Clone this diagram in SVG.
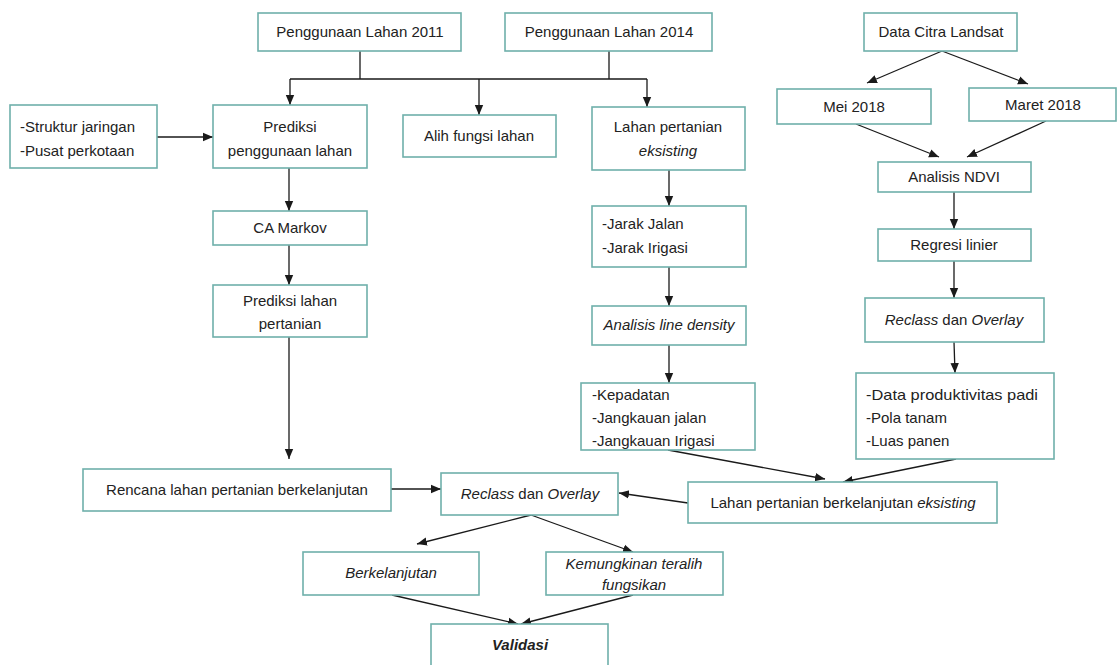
<svg xmlns="http://www.w3.org/2000/svg" width="1118" height="665" viewBox="0 0 1118 665">
<style>
.box{fill:#fff;stroke:#6fb0ab;stroke-width:1.6}
.t{font-family:"Liberation Sans",Arial,sans-serif;font-size:15px;fill:#222}
.c{text-anchor:middle}
.i{font-style:italic}
.b{font-weight:bold}
.ln{fill:none;stroke:#1a1a1a;stroke-width:1.3}
.ar{fill:none;stroke:#1a1a1a;stroke-width:1.3;marker-end:url(#ah)}
</style>
<defs>
<marker id="ah" markerUnits="userSpaceOnUse" markerWidth="10" markerHeight="10" viewBox="0 0 10 10" refX="10" refY="5" orient="auto">
<path d="M0,0.8 L10,5 L0,9.2 Z" fill="#1a1a1a"/>
</marker>
</defs>
<rect width="1118" height="665" fill="#fff"/>
<g id="connectors">
<path class="ln" d="M360,51 V79 M290,79 H647 M609,51 V79"/>
<path class="ar" d="M290,79 V105"/>
<path class="ar" d="M479,79 V115"/>
<path class="ar" d="M647,79 V107"/>
<path class="ar" d="M157,137 H213"/>
<path class="ar" d="M289,168 V211"/>
<path class="ar" d="M289,245 V285"/>
<path class="ar" d="M289,337 V459"/>
<path class="ar" d="M391,489 H441"/>
<path class="ar" d="M669,170 V206"/>
<path class="ar" d="M669,267 V306"/>
<path class="ar" d="M669,345 V383"/>
<path class="ar" d="M942,51 L867,83"/>
<path class="ar" d="M942,51 L1028,84"/>
<path class="ar" d="M856,124 L939,157"/>
<path class="ar" d="M1046,121 L967,157"/>
<path class="ar" d="M954,192 V229"/>
<path class="ar" d="M954,261 V298"/>
<path class="ar" d="M954,342 L955,373"/>
<path class="ar" d="M668,450 L825,479"/>
<path class="ar" d="M956,459 L843,482"/>
<path class="ar" d="M688,503 L619,493"/>
<path class="ar" d="M531,515 L417,544"/>
<path class="ar" d="M531,515 L633,552"/>
<path class="ar" d="M392,595 L518,624"/>
<path class="ar" d="M633,595 L521,624"/>
</g>
<g id="pl2011"><rect class="box" x="258" y="13" width="203" height="38"/><text class="t c" x="360" y="37">Penggunaan Lahan 2011</text></g>
<g id="pl2014"><rect class="box" x="505" y="13" width="207" height="38"/><text class="t c" x="609" y="37">Penggunaan Lahan 2014</text></g>
<g id="landsat"><rect class="box" x="864" y="13" width="153" height="38"/><text class="t c" x="941" y="37">Data Citra Landsat</text></g>
<g id="mei"><rect class="box" x="777" y="89" width="154" height="35"/><text class="t c" x="854" y="112">Mei 2018</text></g>
<g id="maret"><rect class="box" x="969" y="88" width="147" height="33"/><text class="t c" x="1043" y="110">Maret 2018</text></g>
<g id="struktur"><rect class="box" x="10" y="105" width="147" height="63"/><text class="t" x="20" y="132">-Struktur jaringan</text><text class="t" x="20" y="156">-Pusat perkotaan</text></g>
<g id="prediksi"><rect class="box" x="213" y="105" width="154" height="63"/><text class="t c" x="290" y="132">Prediksi</text><text class="t c" x="290" y="156">penggunaan lahan</text></g>
<g id="alih"><rect class="box" x="403" y="115" width="153" height="42"/><text class="t c" x="479" y="141">Alih fungsi lahan</text></g>
<g id="lahanEks"><rect class="box" x="592" y="107" width="153" height="63"/><text class="t c" x="668" y="132">Lahan pertanian</text><text class="t c i" x="668" y="156">eksisting</text></g>
<g id="ndvi"><rect class="box" x="878" y="162" width="153" height="30"/><text class="t c" x="954" y="182">Analisis NDVI</text></g>
<g id="camarkov"><rect class="box" x="213" y="211" width="154" height="34"/><text class="t c" x="290" y="233">CA Markov</text></g>
<g id="jarak"><rect class="box" x="592" y="206" width="154" height="61"/><text class="t" x="602" y="229">-Jarak Jalan</text><text class="t" x="602" y="253">-Jarak Irigasi</text></g>
<g id="regresi"><rect class="box" x="878" y="229" width="153" height="32"/><text class="t c" x="954" y="250">Regresi linier</text></g>
<g id="prediksiTani"><rect class="box" x="213" y="285" width="154" height="52"/><text class="t c" x="290" y="306">Prediksi lahan</text><text class="t c" x="290" y="329">pertanian</text></g>
<g id="lineDensity"><rect class="box" x="592" y="306" width="154" height="39"/><text class="t c i" x="669" y="330">Analisis line density</text></g>
<g id="reclass1"><rect class="box" x="865" y="298" width="179" height="44"/><text class="t c" x="954" y="325"><tspan class="i">Reclass</tspan> dan <tspan class="i">Overlay</tspan></text></g>
<g id="kepadatan"><rect class="box" x="581" y="383" width="174" height="67"/><text class="t" x="592" y="400">-Kepadatan</text><text class="t" x="592" y="423">-Jangkauan jalan</text><text class="t" x="592" y="446">-Jangkauan Irigasi</text></g>
<g id="dataProd"><rect class="box" x="856" y="373" width="198" height="86"/><text class="t" x="866" y="400" textLength="172" lengthAdjust="spacingAndGlyphs">-Data produktivitas padi</text><text class="t" x="866" y="423">-Pola tanam</text><text class="t" x="866" y="446">-Luas panen</text></g>
<g id="rencana"><rect class="box" x="83" y="469" width="308" height="42"/><text class="t c" x="237" y="495">Rencana lahan pertanian berkelanjutan</text></g>
<g id="reclass2"><rect class="box" x="441" y="473" width="177" height="42"/><text class="t c" x="530" y="499"><tspan class="i">Reclass</tspan> dan <tspan class="i">Overlay</tspan></text></g>
<g id="lpbEks"><rect class="box" x="688" y="482" width="309" height="41"/><text class="t c" x="843" y="508">Lahan pertanian berkelanjutan <tspan class="i">eksisting</tspan></text></g>
<g id="berkelanjutan"><rect class="box" x="303" y="552" width="176" height="43"/><text class="t c i" x="391" y="578">Berkelanjutan</text></g>
<g id="kemungkinan"><rect class="box" x="546" y="552" width="177" height="43"/><text class="t c i" x="634" y="569">Kemungkinan teralih</text><text class="t c i" x="634" y="590">fungsikan</text></g>
<g id="validasi"><rect class="box" x="431" y="624" width="177" height="50"/><text class="t c i b" x="520" y="650">Validasi</text></g>
</svg>
